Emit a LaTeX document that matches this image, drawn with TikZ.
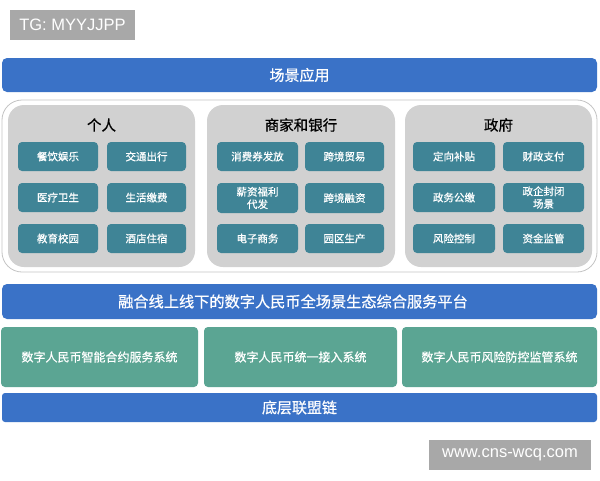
\documentclass[tikz,border=0pt]{standalone}
\usepackage{fontspec}
\setmainfont{Liberation Sans}
\newfontfamily\cjk{Noto Sans CJK SC}
\newfontfamily\cjkb[FakeBold=0.6]{Noto Sans CJK SC}
\definecolor{barblue}{HTML}{3A72C7}
\definecolor{tealbox}{HTML}{3F8496}
\definecolor{greenbox}{HTML}{5BA593}
\definecolor{groupgray}{HTML}{D1D1D1}
\definecolor{framegray}{HTML}{C4C4C4}
\definecolor{markgray}{HTML}{A8A8A8}
\newcommand{\itembox}[6]{\fill[tealbox,rounded corners=4pt] (#1,#2) rectangle (#3,#4);
  \node[itemtxt] (#5) at ({(#1+#3)/2},{(#2+#4)/2}) {#6};}
\begin{document}
\begin{tikzpicture}[x=1pt,y=-1pt,
  grptitle/.style={font=\cjkb\fontsize{14.5}{17}\selectfont,text=black},
  itemtxt/.style={text=white,align=center,font=\cjkb\fontsize{10.5}{12.5}\selectfont},
  systxt/.style={text=white,font=\cjkb\fontsize{12}{14}\selectfont},
  bartxt/.style={text=white,font=\cjkb\fontsize{15}{18}\selectfont},
  wmark/.style={fill=markgray,text=white,font=\fontsize{16.5}{19}\selectfont}
]
\useasboundingbox (0,0) rectangle (600,480);
\fill[white] (0,0) rectangle (600,480);
% watermark top
\node[wmark,minimum width=125pt,minimum height=30pt,inner sep=0pt] (tg) at (72.5,25) {TG: MYYJJPP};
% top bar
\fill[barblue,rounded corners=5pt] (2,58) rectangle (597,92);
\node[bartxt] (scene) at (299.5,75) {场景应用};
% outer frame
\draw[framegray,line width=0.8pt,fill=white,rounded corners=20pt] (2,100) rectangle (597,272);
% groups
\fill[groupgray,rounded corners=16pt] (8,105) rectangle (195,267);
\fill[groupgray,rounded corners=16pt] (207,105) rectangle (395,267);
\fill[groupgray,rounded corners=16pt] (405,105) rectangle (592,267);
\node[grptitle] (g1) at (101.5,125) {个人};
\node[grptitle] (g2) at (301,125) {商家和银行};
\node[grptitle] (g3) at (498.5,125) {政府};
% items
\itembox{18}{142}{98}{171}{a1}{餐饮娱乐}
\itembox{107}{142}{186}{171}{a2}{交通出行}
\itembox{18}{183}{98}{212}{a3}{医疗卫生}
\itembox{107}{183}{186}{212}{a4}{生活缴费}
\itembox{18}{224}{98}{253}{a5}{教育校园}
\itembox{107}{224}{186}{253}{a6}{酒店住宿}
\itembox{217}{142}{298}{171}{b1}{消费券发放}
\itembox{305}{142}{384}{171}{b2}{跨境贸易}
\itembox{217}{183}{298}{213}{b3}{薪资福利\\代发}
\itembox{305}{183}{384}{213}{b4}{跨境融资}
\itembox{217}{224}{298}{253}{b5}{电子商务}
\itembox{305}{224}{384}{253}{b6}{园区生产}
\itembox{413}{142}{495}{171}{c1}{定向补贴}
\itembox{503}{142}{584}{171}{c2}{财政支付}
\itembox{413}{183}{495}{212}{c3}{政务公缴}
\itembox{503}{183}{584}{212}{c4}{政企封闭\\场景}
\itembox{413}{224}{495}{253}{c5}{风险控制}
\itembox{503}{224}{584}{253}{c6}{资金监管}
% platform bar
\fill[barblue,rounded corners=5pt] (2,284) rectangle (597,319);
\node[text=white,font=\cjkb\fontsize{15.2}{18}\selectfont] (plat) at (293,301.5) {融合线上线下的数字人民币全场景生态综合服务平台};
% systems
\fill[greenbox,rounded corners=4pt] (1,327) rectangle (198,387);
\fill[greenbox,rounded corners=4pt] (204,327) rectangle (397,387);
\fill[greenbox,rounded corners=4pt] (402,327) rectangle (597,387);
\node[systxt] (s1) at (99.5,357) {数字人民币智能合约服务系统};
\node[systxt] (s2) at (300.5,357) {数字人民币统一接入系统};
\node[systxt] (s3) at (499.5,357) {数字人民币风险防控监管系统};
% bottom bar
\fill[barblue,rounded corners=3pt] (2,393) rectangle (597,422);
\node[bartxt] (chain) at (299.5,407.5) {底层联盟链};
% watermark bottom
\node[wmark,minimum width=162pt,minimum height=30pt,inner sep=0pt] (wm) at (510,455) {www.cns-wcq.com};
\end{tikzpicture}
\end{document}
